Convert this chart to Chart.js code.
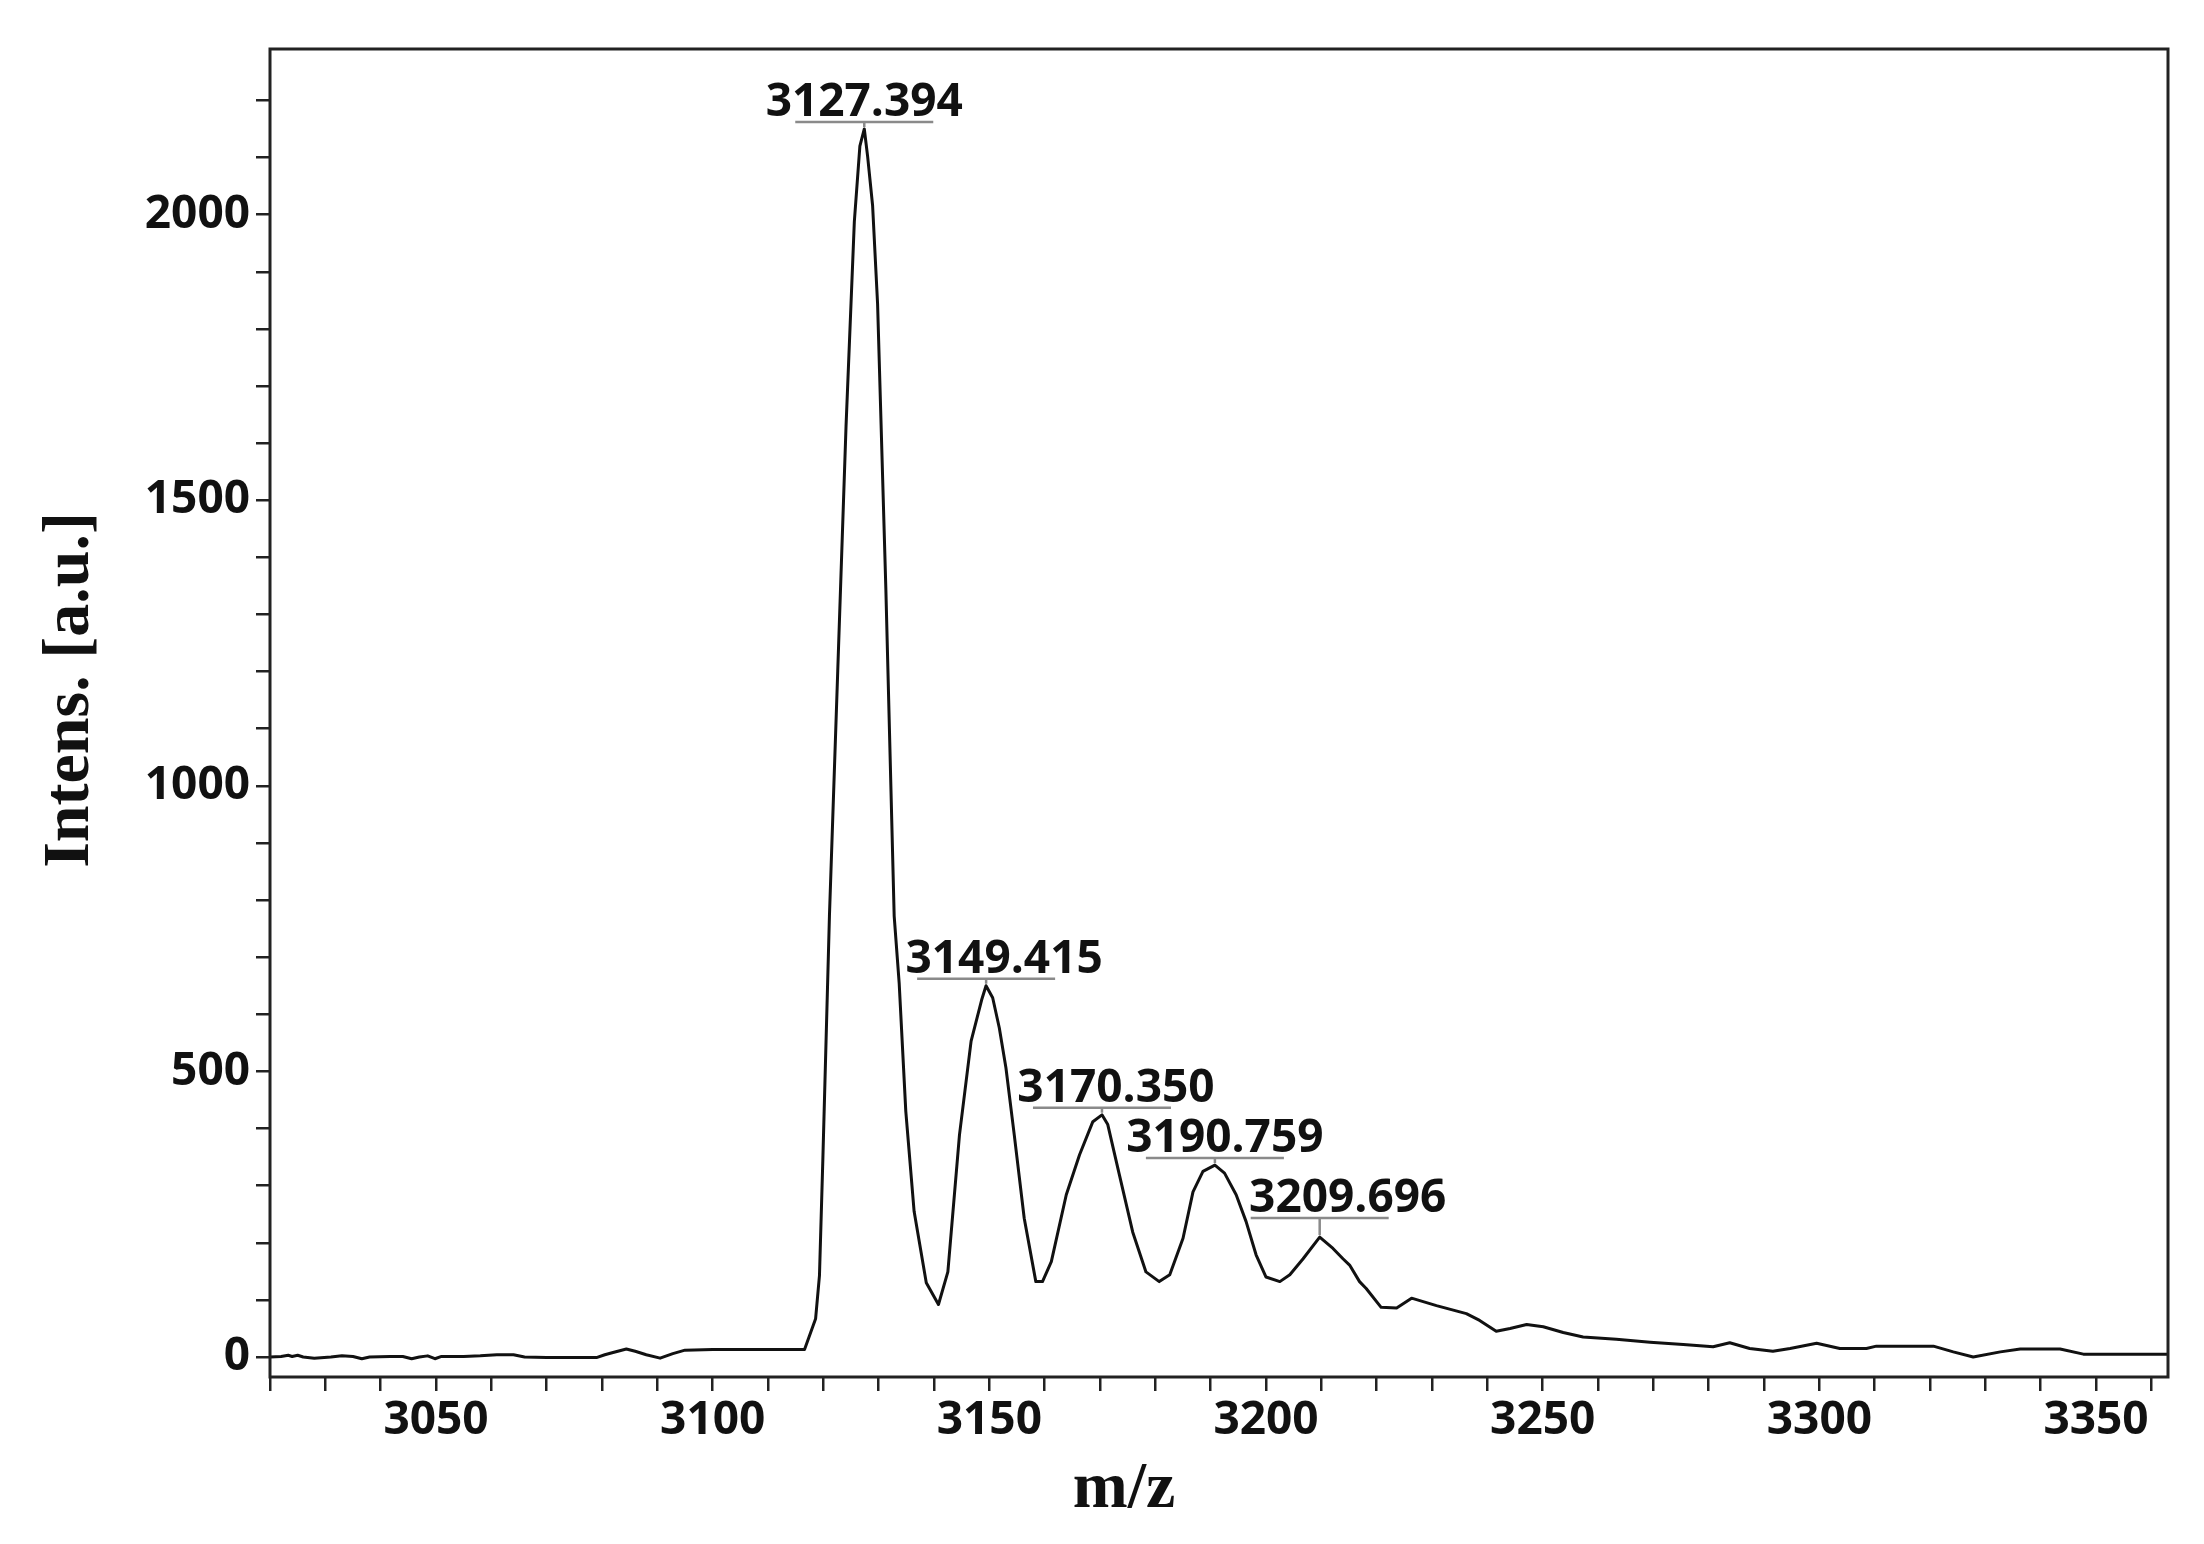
<!DOCTYPE html>
<html>
<head>
<meta charset="utf-8">
<title>Intens. vs m/z</title>
<script src="https://cdn.jsdelivr.net/npm/chart.js@4.4.1/dist/chart.umd.min.js"></script>
<style>
    html, body { margin: 0; padding: 0; background: #fff; }
    #wrap { width: 2204px; height: 1544px; }
</style>
</head>
<body>
<div id="wrap"><canvas id="spectrum" width="2204" height="1544"></canvas></div>
<script>
// ================================
// Data
// ================================
const mzValues = [
    3020, 3022, 3023.3, 3024, 3025, 3026, 3028, 3031, 3033, 3035, 3036.6, 3038,
    3041.7, 3044, 3045.6, 3047, 3048.5, 3049.8, 3051, 3055, 3058, 3061, 3064, 3066,
    3070, 3075, 3079, 3080.5, 3082, 3084.4, 3086, 3088, 3090.5, 3092.8, 3095, 3100,
    3105, 3110, 3116.6, 3118.6, 3119.3, 3119.9, 3121.1, 3122.6, 3124.1, 3125.6, 3126.6,
    3127.4, 3128.0, 3128.9, 3129.8, 3131.3, 3132.8, 3133.7, 3134.9, 3136.4, 3138.6,
    3140.8, 3142.5, 3144.6, 3146.7, 3148.6, 3149.4, 3150.6, 3151.8, 3153.0, 3154.5,
    3156.3, 3158.4, 3159.6, 3161.2, 3163.9, 3166.3, 3168.7, 3170.35, 3171.4, 3173.5,
    3175.9, 3178.3, 3180.7, 3182.6, 3185.0, 3186.8, 3188.6, 3190.76, 3192.5, 3194.6,
    3196.4, 3198.2, 3200.0, 3202.5, 3204.3, 3206.7, 3209.7, 3212.1, 3213.9, 3215.1,
    3216.9, 3218.1, 3220.8, 3223.6, 3226.3, 3230.8, 3236.2, 3238.6, 3241.6, 3244.1,
    3247.1, 3250.1, 3253.7, 3257.3, 3263.3, 3269.4, 3275.4, 3280.8, 3283.8, 3287.4,
    3291.6, 3294.7, 3299.5, 3303.7, 3308.5, 3310.3, 3320.6, 3324.2, 3327.8, 3332.7,
    3336.3, 3343.5, 3347.7, 3363.2
];
const intensities = [
    0, 1, 3, 1, 3, 0, -2, 0, 2, 1, -3, 0,
    1, 1, -3, 0, 2, -3, 1, 1, 2, 4, 4, 0,
    -1, -1, -1, 4, 8, 14, 10, 4, -2, 6, 12, 13,
    13, 13, 13, 67, 143, 343, 772, 1201, 1630, 1988, 2120,
    2150, 2102, 2016, 1844, 1343, 772, 655, 430, 255, 130,
    92, 149, 389, 553, 625, 650, 629, 576, 506, 389,
    243, 132, 132, 167, 284, 354, 412, 424, 407, 319,
    219, 149, 132, 144, 208, 289, 325, 336, 322, 284,
    237, 179, 140, 132, 144, 172, 210, 190, 172, 161,
    132, 120, 87, 86, 103, 90, 76, 64, 45, 50,
    57, 53, 43, 35, 31, 26, 22, 18, 25, 15,
    10, 15, 24, 15, 15, 19, 19, 9, 0, 9,
    14, 14, 5, 5
];

// Axis ranges and tick labels
const xRange = [3020, 3363];
const yRange = [-35, 2290];
const xMajorTicks = [3050, 3100, 3150, 3200, 3250, 3300, 3350];
const yMajorTicks = [0, 500, 1000, 1500, 2000];
const xMinorStep = 10;
const yMinorStep = 100;

// Labelled peaks
const peakLabels = ["3127.394", "3149.415", "3170.350", "3190.759", "3209.696"];
const peakMz = [3127.394, 3149.415, 3170.350, 3190.759, 3209.696];
const peakIntensity = [2150, 650, 424, 336, 210];

// Styling for peak labels (px)
const LABEL_LIFT = [7, 7, 7, 7, 19];
const TEXT_SHIFT = [0, 18, 14, 10, 28];

const TICK_FONT = { family: "'Open Sans', sans-serif", size: 46, weight: "bold" };
const TITLE_FONT = "bold 66px 'Liberation Serif', 'Times New Roman', serif";

function stepTicks(lo, hi, step) {
    const out = [];
    for (let v = Math.ceil(lo / step) * step; v <= hi; v += step) out.push({ value: v });
    return out;
}

// ================================
// Plugins
// ================================
const frame = {
    id: "frame",
    afterDatasetsDraw(chart) {
        const { ctx, chartArea: a } = chart;
        ctx.save();
        ctx.strokeStyle = "#222";
        ctx.lineWidth = 3;
        ctx.strokeRect(a.left, a.top, a.right - a.left, a.bottom - a.top);
        ctx.restore();
    },
};

const peakMarkers = {
    id: "peakMarkers",
    afterDatasetsDraw(chart) {
        const { ctx, scales: { x, y } } = chart;
        ctx.save();
        peakMz.forEach((mz, i) => {
            const px = x.getPixelForValue(mz);
            const apex = y.getPixelForValue(peakIntensity[i]);
            const lineY = apex - LABEL_LIFT[i];
            ctx.strokeStyle = "#8a8a8a";
            ctx.lineWidth = 2.5;
            ctx.beginPath();
            ctx.moveTo(px - 69, lineY);
            ctx.lineTo(px + 69, lineY);
            ctx.moveTo(px, lineY);
            ctx.lineTo(px, apex - 2);
            ctx.stroke();

            ctx.fillStyle = "#111";
            ctx.font = `bold ${TICK_FONT.size}px ${TICK_FONT.family}`;
            ctx.textAlign = "center";
            ctx.textBaseline = "alphabetic";
            ctx.fillText(peakLabels[i], px + TEXT_SHIFT[i], lineY - 6);
        });
        ctx.restore();
    },
};

const axisTitles = {
    id: "axisTitles",
    afterDraw(chart) {
        const ctx = chart.ctx;
        ctx.save();
        ctx.fillStyle = "#111";
        ctx.font = TITLE_FONT;
        ctx.textAlign = "center";
        ctx.textBaseline = "alphabetic";
        ctx.fillText("m/z", 1124, 1507);
        ctx.translate(88, 690);
        ctx.rotate(-Math.PI / 2);
        ctx.fillText("Intens. [a.u.]", 0, 0);
        ctx.restore();
    },
};

// ================================
// Chart
// ================================
const axisGrid = {
    display: true,
    drawOnChartArea: false,
    drawTicks: true,
    tickLength: 14,
    color: "#222",
    lineWidth: 2.5,
};

new Chart(document.getElementById("spectrum").getContext("2d"), {
    type: "line",
    data: {
        datasets: [{
            data: mzValues.map((mz, i) => ({ x: mz, y: intensities[i] })),
            borderColor: "#111",
            borderWidth: 3,
            pointRadius: 0,
            tension: 0,
            fill: false,
            borderJoinStyle: "round",
        }],
    },
    options: {
        responsive: false,
        animation: false,
        devicePixelRatio: 1,
        layout: { padding: { top: 49, right: 36, left: 0, bottom: 0 } },
        plugins: {
            legend: { display: false },
            tooltip: { enabled: false },
        },
        scales: {
            x: {
                type: "linear",
                position: "bottom",
                min: xRange[0],
                max: xRange[1],
                grid: axisGrid,
                border: { display: false },
                afterBuildTicks: (s) => { s.ticks = stepTicks(xRange[0], xRange[1], xMinorStep); },
                afterFit: (s) => { s.height = 167; },
                ticks: {
                    autoSkip: false,
                    maxRotation: 0,
                    padding: 2,
                    color: "#111",
                    font: TICK_FONT,
                    callback: (v) => (xMajorTicks.includes(v) ? String(v) : ""),
                },
            },
            y: {
                type: "linear",
                min: yRange[0],
                max: yRange[1],
                grid: axisGrid,
                border: { display: false },
                afterBuildTicks: (s) => { s.ticks = stepTicks(0, yRange[1], yMinorStep); },
                afterFit: (s) => { s.width = 270; },
                ticks: {
                    autoSkip: false,
                    padding: 6,
                    color: "#111",
                    font: TICK_FONT,
                    callback: (v) => (yMajorTicks.includes(v) ? String(v) : ""),
                },
            },
        },
    },
    plugins: [frame, peakMarkers, axisTitles],
});
</script>
</body>
</html>
